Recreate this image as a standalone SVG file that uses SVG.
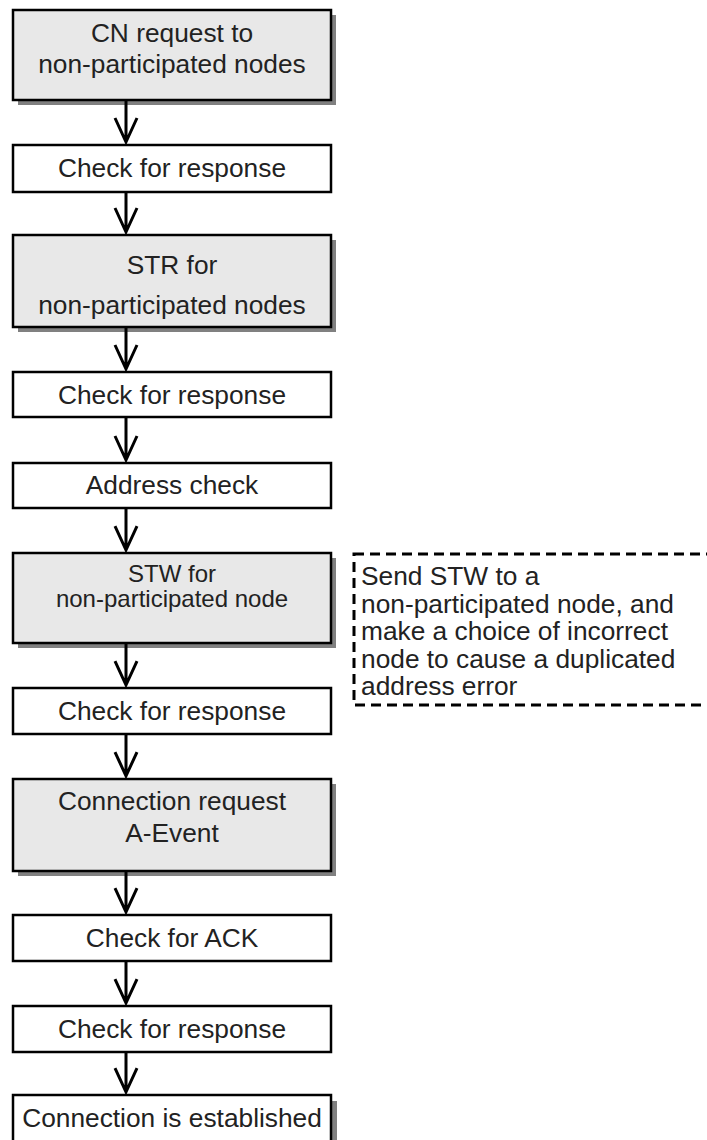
<svg xmlns="http://www.w3.org/2000/svg" width="707" height="1140" viewBox="0 0 707 1140">
<defs>
<style>
.box{stroke:#000;stroke-width:2.5;}
.g{fill:#e8e8e8;}
.w{fill:#fff;}
.sh{fill:#808080;}
text{font-family:"Liberation Sans",Arial,sans-serif;font-size:26.3px;fill:#222;text-anchor:middle;}
.sm{font-size:24px;}
.note{text-anchor:start;}
.conn{stroke:#000;stroke-width:3;fill:none;}
</style>
</defs>
<rect width="707" height="1140" fill="#fff"/>
<g id="n1"><rect class="sh" x="18" y="15" width="318" height="90"/><rect class="box g" x="13" y="10" width="318" height="90"/><text x="172" y="42">CN request to</text><text x="172" y="73">non-participated nodes</text></g>
<g id="n2"><rect class="box w" x="13" y="145" width="318" height="47"/><text x="172" y="177">Check for response</text></g>
<g id="n3"><rect class="sh" x="18" y="240" width="318" height="92"/><rect class="box g" x="13" y="235" width="318" height="92"/><text x="172" y="274">STR for</text><text x="172" y="314">non-participated nodes</text></g>
<g id="n4"><rect class="box w" x="13" y="372" width="318" height="45"/><text x="172" y="404">Check for response</text></g>
<g id="n5"><rect class="box w" x="13" y="463" width="318" height="45"/><text x="172" y="494">Address check</text></g>
<g id="n6"><rect class="sh" x="18" y="558" width="318" height="90"/><rect class="box g" x="13" y="553" width="318" height="90"/><text class="sm" x="172" y="582">STW for</text><text class="sm" x="172" y="607">non-participated node</text></g>
<g id="n7"><rect class="box w" x="13" y="688" width="318" height="46"/><text x="172" y="720">Check for response</text></g>
<g id="n8"><rect class="sh" x="18" y="784" width="318" height="92"/><rect class="box g" x="13" y="779" width="318" height="92"/><text x="172" y="810">Connection request</text><text x="172" y="842">A-Event</text></g>
<g id="n9"><rect class="box w" x="13" y="915" width="318" height="46"/><text x="172" y="947">Check for ACK</text></g>
<g id="n10"><rect class="box w" x="13" y="1006" width="318" height="46"/><text x="172" y="1038">Check for response</text></g>
<g id="n11"><rect class="sh" x="19" y="1101" width="318" height="60"/><rect class="box w" x="13" y="1095" width="318" height="60"/><text x="172" y="1127">Connection is established</text></g>
<g id="note"><rect x="354" y="554" width="370" height="151" fill="none" stroke="#000" stroke-width="3" stroke-dasharray="10 6"/>
<text class="note" x="361" y="585">Send STW to a</text>
<text class="note" x="361" y="613">non-participated node, and</text>
<text class="note" x="361" y="640">make a choice of incorrect</text>
<text class="note" x="361" y="668">node to cause a duplicated</text>
<text class="note" x="361" y="695">address error</text></g>
<g id="connectors">
<path class="conn" d="M126 101V142M115 118L126 142L137 118"/>
<path class="conn" d="M126 193V232M115 208L126 232L137 208"/>
<path class="conn" d="M126 328V369M115 345L126 369L137 345"/>
<path class="conn" d="M126 418V460M115 436L126 460L137 436"/>
<path class="conn" d="M126 509V550M115 526L126 550L137 526"/>
<path class="conn" d="M126 644V685M115 661L126 685L137 661"/>
<path class="conn" d="M126 735V776M115 752L126 776L137 752"/>
<path class="conn" d="M126 872V912M115 888L126 912L137 888"/>
<path class="conn" d="M126 962V1003M115 979L126 1003L137 979"/>
<path class="conn" d="M126 1053V1092M115 1068L126 1092L137 1068"/>
</g>
</svg>
